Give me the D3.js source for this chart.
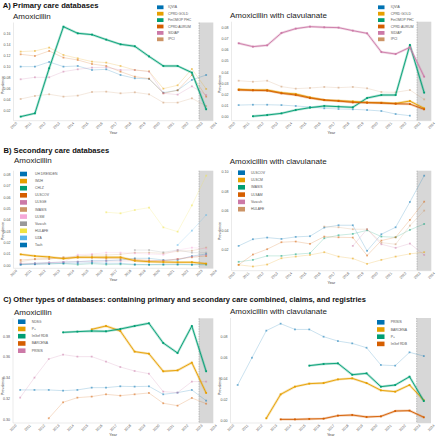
<!DOCTYPE html>
<html><head><meta charset="utf-8">
<script src="https://cdn.jsdelivr.net/npm/d3@7"></script>
<style>body{margin:0;background:#fff}svg{display:block;font-family:"Liberation Sans",Arial,sans-serif}</style>
</head><body><svg id="c" width="436" height="440"></svg>
<script>
const years = [2010,2011,2012,2013,2014,2015,2016,2017,2018,2019,2020,2021,2022,2023];
const xTicks = [2010,2011,2012,2013,2014,2015,2016,2017,2018,2019,2020,2021,2022,2023,2024];

// ---- A) Primary care: Amoxicillin
const legendA = ["IQVIA","CPRD GOLD","FinOMOP PHC","CPRD AURUM","SIDIAP","IPCI"];
const aAmoxIQVIA  = [0.0994,0.0994,0.1079,0.0994,0.1006,0.0933,0.0945,0.0842,0.0782,0.0770,0.0521,0.0564,0.0752,0.0842];
const aAmoxGOLD   = [0.1267,0.1279,0.1340,0.1206,0.1145,0.1085,0.1067,0.1006,0.0933,0.0909,0.0594,0.0655,0.0952,0.0588];
const aAmoxFIN    = [0.0085,0.0145,0.0964,0.1720,0.1600,0.1576,0.1485,0.1400,0.1364,0.1180,0.1006,0.1006,0.0885,0.0218];
const aAmoxAURUM  = [0.1218,0.1188,0.1279,0.1158,0.1115,0.1042,0.1006,0.0903,0.0812,0.0776,0.0509,0.0564,0.0842,0.0449];
const aAmoxSIDIAP = [0.0764,0.0800,0.0800,0.0903,0.0945,0.0976,0.0982,0.0933,0.0933,0.0903,0.0509,0.0485,0.0636,0.0479];
const aAmoxIPCI   = [0.0406,0.0461,0.0491,0.0449,0.0467,0.0533,0.0539,0.0509,0.0527,0.0491,0.0340,0.0340,0.0418,0.0279];
const aAmoxTicks  = [0.02,0.04,0.06,0.08,0.10,0.12,0.14,0.16];
// ---- A) Primary care: Amoxicillin with clavulanate
const aClavIQVIA  = [0.0104,0.0107,0.0107,0.0104,0.0096,0.0087,0.0075,0.0069,0.0066,0.0060,0.0051,0.0024,0.0009,null];
const aClavGOLD   = [0.0245,0.0239,0.0239,0.0215,0.0203,0.0173,0.0149,0.0143,0.0137,0.0128,0.0125,0.0119,0.0140,0.0075];
const aClavFIN    = [null,0.0004,0.0015,0.0030,0.0060,0.0081,0.0096,0.0090,0.0084,0.0167,0.0194,0.0194,0.0642,0.0215];
const aClavAURUM  = [0.0239,0.0236,0.0233,0.0209,0.0194,0.0167,0.0149,0.0140,0.0128,0.0125,0.0122,0.0116,0.0113,0.0066];
const aClavSIDIAP = [0.0657,0.0627,0.0639,0.0749,0.0788,0.0806,0.0800,0.0797,0.0770,0.0746,0.0579,0.0561,0.0621,0.0358];
const aClavIPCI   = [0.0322,0.0313,0.0322,0.0269,0.0251,0.0257,0.0266,0.0260,0.0266,0.0254,0.0221,0.0218,0.0239,0.0155];
const aClavTicks  = [0.00,0.01,0.02,0.03,0.04,0.05,0.06,0.07,0.08];

// ---- B) Secondary care: Amoxicillin
const legendBL = ["UH DRESDEN","IMJH","CHLZ","ULSCOV","ULSGE","IMASIS","ULSM","Vascuh","HULAFE","UZA","Tauh"];
const bAmoxDRESDEN = [0.0003,0.0015,0.0021,0.0026,0.0029,0.0038,0.0038,0.0044,0.0059,0.0059,0.0044,0.0044,0.0079,0.0097];
const bAmoxIMJH    = [0.0094,0.0079,0.0071,0.0056,0.0068,0.0068,0.0068,0.0068,0.0038,0.0029,0.0026,0.0024,0.0024,0.0012];
const bAmoxCHLZ    = [0.0009,0.0009,0.0012,0.0012,0.0003,0.0012,0.0004,0.0006,0.0002,0.0002,0.0002,0.0003,0.0002,0.0002];
const bAmoxULSCOV  = [0.0044,0.0053,0.0053,0.0065,0.0065,0.0065,0.0056,0.0056,0.0050,0.0041,0.0038,0.0053,0.0068,0.0079];
const bAmoxULSGE   = [0.0015,0.0015,0.0021,0.0026,0.0029,0.0032,0.0035,0.0035,0.0038,0.0038,0.0038,0.0053,0.0074,0.0088];
const bAmoxIMASIS  = [0.0029,0.0050,0.0056,0.0068,0.0079,0.0088,0.0088,0.0094,0.0109,0.0109,0.0103,0.0121,0.0126,0.0153];
const bAmoxULSM    = [0.0009,0.0009,0.0018,0.0024,0.0091,0.0097,0.0109,0.0109,0.0103,0.0097,0.0091,0.0132,0.0153,0.0144];
const bAmoxVascuh  = [null,null,null,null,null,null,null,null,0.0132,0.0132,0.0112,0.0132,0.0109,0.0109];
const bAmoxHULAFE  = [null,null,null,null,null,null,0.0465,0.0456,0.0485,0.0506,0.0332,0.0294,0.0526,0.0788];
const bAmoxUZA     = [null,null,null,null,null,null,null,null,null,null,null,0.0176,0.0303,0.0441];
const bAmoxTauh    = [0.0003,0.0006,0.0009,0.0015,0.0015,0.0021,0.0015,0.0015,0.0006,0.0003,0.0006,0.0006,0.0003,0.0009];
const bAmoxTicks   = [0.00,0.01,0.02,0.03,0.04,0.05,0.06,0.07,0.08];
// ---- B) Secondary care: Amoxicillin with clavulanate
const legendBR = ["ULSCOV","ULSCM","IMASIS","ULSAM","Vascuh","HULAFE"];
const bClavULSCOV = [0.0235,0.0304,0.0321,0.0307,0.0328,0.0335,0.0424,0.0448,0.0448,0.0184,0.0355,0.0427,0.0688,0.0959];
const bClavULSCM  = [0.0040,0.0023,0.0043,0.0108,0.0125,0.0142,0.0170,0.0125,0.0105,0.0050,0.0091,0.0125,0.0153,0.0170];
const bClavIMASIS = [0.0071,0.0091,0.0132,0.0132,0.0149,0.0160,0.0314,0.0345,0.0359,0.0396,0.0331,0.0324,0.0400,0.0461];
const bClavULSAM  = [0.0040,0.0146,0.0201,0.0273,0.0280,0.0256,0.0331,0.0324,0.0321,0.0136,0.0290,0.0324,0.0503,0.0691];
const bClavVascuh = [null,null,null,null,null,null,null,null,0.0235,0.0407,0.0252,0.0215,0.0259,0.0142];
const bClavHULAFE = [null,null,null,null,null,null,0.0434,0.0427,0.0407,0.0407,0.0269,0.0252,0.0444,0.0599];
const bClavTicks  = [0.02,0.04,0.06,0.08,0.10];

// ---- C) Other types: Amoxicillin
const legendCL = ["NDSG","P+","InGef RDB","BARCENA","PRISIS"];
const cAmoxNDSG    = [0.3282,0.3282,0.3282,0.3275,0.3282,0.3304,0.3304,0.3317,0.3314,0.3317,0.3240,0.3256,0.3282,0.3179];
const cAmoxPplus   = [null,null,null,null,null,0.3864,0.3896,0.3848,0.3650,0.3630,0.3461,0.3470,0.3544,0.3253];
const cAmoxInGef   = [null,null,null,0.3835,0.3842,0.3848,0.3845,0.3867,0.3896,0.3922,0.3733,0.3637,0.3896,0.3461];
const cAmoxBARCENA = [null,null,0.3010,0.3163,0.3208,0.3218,0.3240,0.3227,0.3240,0.3253,0.3154,0.3131,0.3205,0.3150];
const cAmoxPRISIS  = [0.3208,0.3400,0.3579,0.3621,0.3602,0.3602,0.3554,0.3502,0.3464,0.3438,0.3266,0.3256,0.3362,0.3362];
const cAmoxTicks   = [0.30,0.32,0.34,0.36,0.38];
// ---- C) Other types: Amoxicillin with clavulanate
const legendCR = ["PRISIS","BARCENA","P+","InGef RDB"];
const cClavPRISIS  = [0.0336,0.0598,0.0858,0.0925,0.0870,0.0870,0.0800,0.0758,0.0736,0.0694,0.0528,0.0522,0.0650,0.0614];
const cClavBARCENA = [null,null,0.0016,0.0246,0.0320,0.0349,0.0355,0.0390,0.0400,0.0355,0.0285,0.0272,0.0336,0.0189];
const cClavPplus   = [null,null,null,null,null,0.0522,0.0538,0.0544,0.0435,0.0448,0.0320,0.0336,0.0416,0.0182];
const cClavInGef   = [null,null,null,0.0006,0.0006,0.0010,0.0013,0.0042,0.0048,0.0029,0.0035,0.0086,0.0090,0.0026];
const cClavTicks   = [0.00,0.02,0.04,0.06,0.08];

const BLUE="#0072B2", ORANGE="#E69F00", GREEN="#009E73", VERM="#D55E00", PINK="#CC79A7",
      TAN="#CC9466", LPINK="#F5A8D8", GREY="#999999", YELLOW="#F0E442", LBLUE="#56B4E9";

const svg = d3.select("#c");

function drawPanel(p) {
  const x = d3.scaleLinear().domain([2010, 2024]).range([p.x0, p.x1]);
  const y = d3.scaleLinear().domain(p.yDomain).range(p.yRange);
  const g = svg.append("g");
  g.append("rect").attr("x", x(2023)).attr("y", p.top).attr("width", x(2024) - x(2023))
    .attr("height", p.bottom - p.top).attr("fill", "#d7d7d7");
  g.append("line").attr("x1", x(2023)).attr("x2", x(2023)).attr("y1", p.top).attr("y2", p.bottom)
    .attr("stroke", "#8a8a8a").attr("stroke-width", 0.5).attr("stroke-dasharray", "1.5,1");
  g.append("line").attr("x1", p.x0).attr("x2", p.x0).attr("y1", p.top).attr("y2", p.bottom)
    .attr("stroke", "#d4d4d4").attr("stroke-width", 0.5);
  g.append("line").attr("x1", p.x0).attr("x2", x(2024)).attr("y1", p.bottom).attr("y2", p.bottom)
    .attr("stroke", "#d4d4d4").attr("stroke-width", 0.5);

  const ya = g.append("g").attr("transform", `translate(${p.x0},0)`)
    .call(d3.axisLeft(y).tickValues(p.yTicks).tickFormat(d3.format(".2f")).tickSize(0).tickPadding(3));
  ya.select(".domain").remove();
  ya.selectAll("text").attr("font-size", 3.6).attr("fill", "#555").attr("font-family", "Liberation Sans, Arial, sans-serif");

  const xa = g.append("g").attr("transform", `translate(0,${p.bottom})`)
    .call(d3.axisBottom(x).tickValues(xTicks).tickFormat(d3.format("d")).tickSize(0));
  xa.select(".domain").remove();
  xa.selectAll("text").attr("font-size", 3.6).attr("fill", "#555").attr("font-family", "Liberation Sans, Arial, sans-serif")
    .attr("text-anchor", "end").attr("y", 0).attr("dy", "0.35em").attr("transform", "translate(2.5,2) rotate(-45)");

  g.append("text").attr("x", (p.x0 + x(2024)) / 2).attr("y", p.bottom + 13).attr("text-anchor", "middle")
    .attr("font-size", 3.8).attr("fill", "#444").text("Year");
  g.append("text").attr("transform", `translate(${p.ylx},${p.yly}) rotate(-90)`).attr("text-anchor", "middle")
    .attr("font-size", 3.6).attr("fill", "#444").text("Prevalence");

  g.append("text").attr("x", p.stx).attr("y", p.sty).attr("font-size", 8).attr("fill", "#1a1a1a").text(p.subtitle);

  const order = p.series.map((s, i) => i).sort((a, b) => (p.strong.includes(a) ? 1 : 0) - (p.strong.includes(b) ? 1 : 0));
  order.forEach(i => {
    const vals = p.series[i];
    const pts = years.map((yr, j) => ({ yr, v: vals[j] })).filter(d => d.v != null);
    const col = p.colors[i];
    const strong = p.strong.includes(i);
    const line = d3.line().x(d => x(d.yr + 0.5)).y(d => y(d.v));
    if (strong) {
      g.append("path").attr("d", line(pts)).attr("fill", "none").attr("stroke", col)
        .attr("stroke-width", 2.4).attr("stroke-opacity", 0.3).attr("stroke-linejoin", "round");
    }
    g.append("path").attr("d", line(pts)).attr("fill", "none").attr("stroke", col)
      .attr("stroke-width", strong ? 0.9 : 0.6).attr("stroke-opacity", strong ? 1 : 0.35);
    g.selectAll(null).data(pts).enter().append("rect")
      .attr("x", d => x(d.yr + 0.5) - 0.9).attr("y", d => y(d.v) - 0.9).attr("width", 1.8).attr("height", 1.8)
      .attr("fill", col).attr("fill-opacity", strong ? 1 : 0.5);
  });

  if (p.legend) {
    const L = p.lg;
    p.legend.forEach((name, i) => {
      const cy = L.y0 + i * L.dy;
      g.append("rect").attr("x", L.x).attr("y", cy - L.sh / 2).attr("width", L.sw).attr("height", L.sh).attr("fill", p.colors[i]);
      g.append("text").attr("x", L.tx).attr("y", cy).attr("dominant-baseline", "central")
        .attr("font-size", 3.4).attr("fill", "#555").text(name);
    });
  }
}

const colA = [BLUE, ORANGE, GREEN, VERM, PINK, TAN];

drawPanel({ x0: 13.5, x1: 213.3, top: 22.5, bottom: 120.7, yDomain: [0.02, 0.16], yRange: [110.3, 33.3], yTicks: aAmoxTicks,
  series: [aAmoxIQVIA, aAmoxGOLD, aAmoxFIN, aAmoxAURUM, aAmoxSIDIAP, aAmoxIPCI], colors: colA, strong: [2],
  subtitle: "Amoxicillin", stx: 13, sty: 19, ylx: 3.5, yly: 85,
  legend: legendA, lg: { x: 157, y0: 7.3, dy: 6.4, sw: 6.5, sh: 3.8, tx: 168 } });

drawPanel({ x0: 231.5, x1: 431.3, top: 21.7, bottom: 120.7, yDomain: [0, 0.08], yRange: [116.7, 27.3], yTicks: aClavTicks,
  series: [aClavIQVIA, aClavGOLD, aClavFIN, aClavAURUM, aClavSIDIAP, aClavIPCI], colors: colA, strong: [1, 2, 3, 4],
  subtitle: "Amoxicillin with clavulanate", stx: 230, sty: 17.5, ylx: 220.5, yly: 84,
  legend: legendA, lg: { x: 378, y0: 7.3, dy: 6.4, sw: 6.5, sh: 3.8, tx: 390.7 } });

drawPanel({ x0: 13.5, x1: 213.3, top: 170.7, bottom: 268.3, yDomain: [0, 0.08], yRange: [265, 174.3], yTicks: bAmoxTicks,
  series: [bAmoxDRESDEN, bAmoxIMJH, bAmoxCHLZ, bAmoxULSCOV, bAmoxULSGE, bAmoxIMASIS, bAmoxULSM, bAmoxVascuh, bAmoxHULAFE, bAmoxUZA, bAmoxTauh],
  colors: [BLUE, ORANGE, GREEN, VERM, PINK, TAN, LPINK, GREY, YELLOW, LBLUE, BLUE], strong: [1],
  subtitle: "Amoxicillin", stx: 14, sty: 163.3, ylx: 3.5, yly: 231,
  legend: legendBL, lg: { x: 20, y0: 174, dy: 7.1, sw: 7, sh: 4.6, tx: 35 } });

drawPanel({ x0: 231.5, x1: 431.3, top: 170.7, bottom: 270.7, yDomain: [0.02, 0.10], yRange: [249.3, 171.7], yTicks: bClavTicks,
  series: [bClavULSCOV, bClavULSCM, bClavIMASIS, bClavULSAM, bClavVascuh, bClavHULAFE],
  colors: [BLUE, ORANGE, GREEN, VERM, PINK, TAN], strong: [],
  subtitle: "Amoxicillin with clavulanate", stx: 229.7, sty: 164, ylx: 220.5, yly: 231,
  legend: legendBR, lg: { x: 238, y0: 172.7, dy: 7.3, sw: 7, sh: 4.6, tx: 251 } });

drawPanel({ x0: 13, x1: 213.3, top: 318.3, bottom: 423, yDomain: [0.30, 0.38], yRange: [419.3, 336], yTicks: cAmoxTicks,
  series: [cAmoxNDSG, cAmoxPplus, cAmoxInGef, cAmoxBARCENA, cAmoxPRISIS],
  colors: [BLUE, ORANGE, GREEN, VERM, PINK], strong: [1, 2],
  subtitle: "Amoxicillin", stx: 14, sty: 315, ylx: 3.5, yly: 386,
  legend: legendCL, lg: { x: 18, y0: 321.7, dy: 7.25, sw: 7.5, sh: 4.6, tx: 31.7 } });

drawPanel({ x0: 230.5, x1: 431, top: 318, bottom: 423, yDomain: [0, 0.08], yRange: [420, 336.7], yTicks: cClavTicks,
  series: [cClavPRISIS, cClavBARCENA, cClavPplus, cClavInGef],
  colors: [BLUE, ORANGE, GREEN, VERM], strong: [1, 2, 3],
  subtitle: "Amoxicillin with clavulanate", stx: 230, sty: 314.3, ylx: 220.5, yly: 386,
  legend: legendCR, lg: { x: 377, y0: 322.3, dy: 7.2, sw: 7.5, sh: 4.6, tx: 390.7 } });

// Section titles
function title(txt, x, yb, targetW) {
  const t = svg.append("text").attr("x", x).attr("y", yb).attr("font-weight", "bold").attr("font-size", 8).attr("fill", "#111").text(txt);
  if (targetW) {
    const w = t.node().getComputedTextLength();
    t.attr("font-size", 8 * targetW / w);
  }
}
title("A) Primary care databases", 2.7, 7.6, 96);
title("B) Secondary care databases", 3.5, 152.7, 106);
title("C) Other types of databases: containing primary and secondary care combined, claims, and registries", 3.3, 302, 363);
</script></body></html>
